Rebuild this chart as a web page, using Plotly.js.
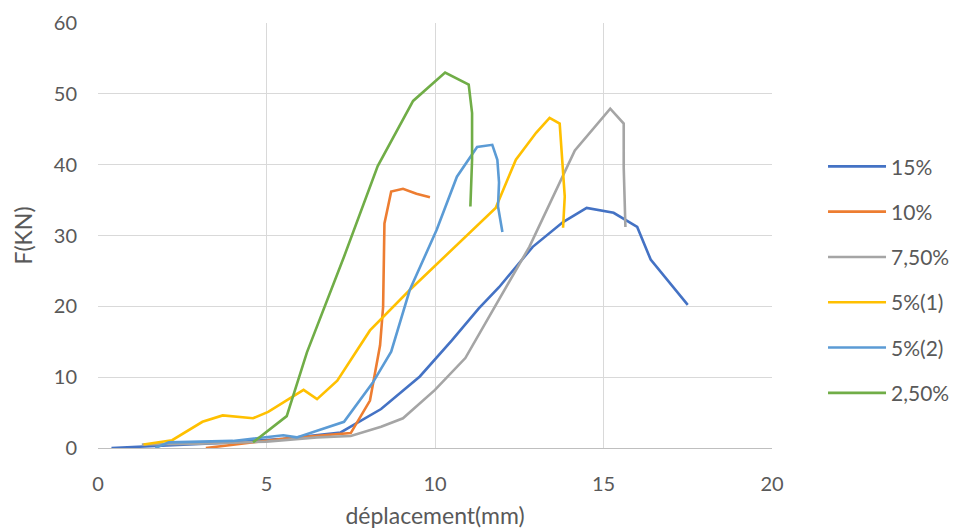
<!DOCTYPE html>
<html>
<head>
<meta charset="utf-8">
<script src="https://cdn.plot.ly/plotly-3.0.1.min.js"></script>
<style>html,body{margin:0;padding:0;background:#fff;}#chart{width:955px;height:531px;}</style>
</head>
<body>
<div id="chart"></div>
<script>
// Series names and colours
const seriesNames = ["15%", "10%", "7,50%", "5%(1)", "5%(2)", "2,50%"];
const seriesColors = ["#4472C4", "#ED7D31", "#A5A5A5", "#FFC000", "#5B9BD5", "#70AD47"];

// 15%
const x15 = [0.4, 2.0, 4.0, 5.5, 7.2, 8.4, 9.55, 10.5, 11.3, 11.9, 12.9, 13.8, 14.5, 15.3, 16.0, 16.4, 17.5];
const y15 = [0.0, 0.4, 0.8, 1.3, 2.2, 5.5, 10.1, 15.2, 19.7, 22.7, 28.4, 31.9, 33.9, 33.2, 31.2, 26.6, 20.2];
// 10%
const x10 = [3.2, 4.5, 5.5, 6.7, 7.5, 8.07, 8.37, 8.46, 8.5, 8.7, 9.05, 9.45, 9.85];
const y10 = [0.0, 0.7, 1.3, 1.8, 2.1, 6.7, 14.5, 19.9, 31.7, 36.2, 36.6, 35.9, 35.4];
// 7,50%
const x75 = [1.3, 3.0, 5.0, 6.5, 7.5, 8.4, 9.05, 10.0, 10.9, 11.3, 12.8, 14.15, 15.2, 15.6, 15.6, 15.65];
const y75 = [0.5, 0.6, 0.9, 1.5, 1.7, 3.0, 4.2, 8.2, 12.7, 16.0, 28.4, 42.0, 47.9, 45.8, 39.6, 31.2];
// 5%(1)
const x5a = [1.35, 2.2, 3.1, 3.7, 4.6, 5.05, 6.1, 6.5, 7.1, 8.07, 9.25, 11.8, 12.4, 13.0, 13.4, 13.7, 13.85, 13.8];
const y5a = [0.5, 1.1, 3.7, 4.6, 4.2, 5.1, 8.2, 6.9, 9.5, 16.6, 22.3, 33.9, 40.7, 44.5, 46.6, 45.8, 35.5, 31.1];
// 5%(2)
const x5b = [1.7, 2.1, 4.0, 5.5, 5.9, 7.3, 8.15, 8.7, 9.25, 10.05, 10.65, 11.25, 11.7, 11.85, 11.9, 11.87, 12.0];
const y5b = [0.0, 0.8, 1.0, 1.8, 1.5, 3.7, 9.2, 13.6, 22.3, 30.8, 38.3, 42.5, 42.8, 40.7, 37.5, 34.1, 30.5];
// 2,50%
const x25 = [4.6, 5.6, 6.2, 7.3, 8.3, 9.35, 10.3, 11.0, 11.1, 11.1, 11.05];
const y25 = [0.8, 4.5, 13.5, 27.0, 39.8, 49.0, 53.0, 51.3, 47.3, 40.7, 34.1];

const xs = [x15, x10, x75, x5a, x5b, x25];
const ys = [y15, y10, y75, y5a, y5b, y25];

const traces = seriesNames.map((n, i) => ({
  x: xs[i], y: ys[i], name: n, type: "scatter", mode: "lines",
  legendgroup: "g" + i,
  line: {color: seriesColors[i], width: 2.6}
}));

const FAM = "Lato, Open Sans, Liberation Sans, sans-serif";
const tickFont = {family: FAM, size: 20, color: "#595959"};
const layout = {
  width: 955, height: 531,
  margin: {l: 98, r: 183, t: 23, b: 83, autoexpand: false},
  paper_bgcolor: "#fff", plot_bgcolor: "#fff",
  showlegend: true,
  legend: {
    xref: "container", x: 0.8618, xanchor: "left", y: 0.396, yanchor: "middle",
    font: {family: FAM, size: 21, color: "#595959"},
    itemwidth: 58,
    tracegroupgap: 15, bgcolor: "rgba(0,0,0,0)"
  },
  xaxis: {
    range: [0, 20], tickvals: [0, 5, 10, 15, 20], ticktext: ["0", "5", "10", "15", "20"],
    showgrid: true, gridcolor: "#d9d9d9", gridwidth: 1,
    zeroline: false, showline: true, linecolor: "#bfbfbf", linewidth: 1,
    ticks: "", tickfont: tickFont, ticklabelstandoff: 18,
    title: {text: "déplacement(mm)", font: {family: FAM, size: 23, color: "#595959"}, standoff: 13}
  },
  yaxis: {
    range: [0, 60], tickvals: [0, 10, 20, 30, 40, 50, 60],
    showgrid: true, gridcolor: "#d9d9d9", gridwidth: 1,
    zeroline: false, showline: false, ticks: "", tickfont: tickFont, ticklabelstandoff: 20,
    title: {text: "F(KN)", font: {family: FAM, size: 23, color: "#595959"}, standoff: 14}
  }
};

Plotly.newPlot("chart", traces, layout, {displayModeBar: false, staticPlot: true});
</script>
</body>
</html>
